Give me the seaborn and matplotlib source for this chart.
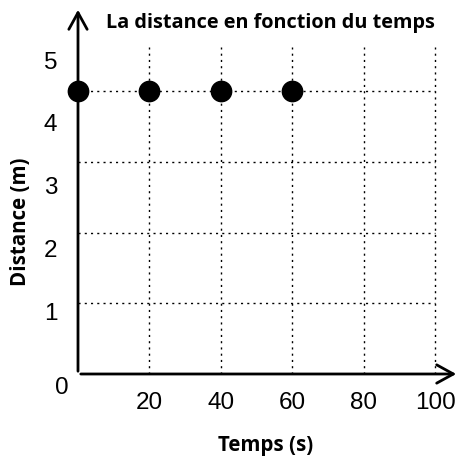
import numpy as np
import pandas as pd
import seaborn as sns
import matplotlib.pyplot as plt

# --- data ---
temps = [0, 20, 40, 60]
distance = [4.5, 4.5, 4.5, 4.5]
x_ticks = [20, 40, 60, 80, 100]
y_ticks = [1, 2, 3, 4, 5]

TITLE = "La distance en fonction du temps"
XLABEL = "Temps (s)"
YLABEL = "Distance (m)"

sns.set_theme(style="white")
plt.rcParams['font.family'] = ['Liberation Sans', 'DejaVu Sans']
plt.rcParams['text.color'] = 'black'

df = pd.DataFrame({"Temps": temps, "Distance": distance})

fig = plt.figure(figsize=(4.6, 4.59), dpi=100)
W, H = 460, 459
# axes box: origin at (78, 374) px, arrow tips at x=459 / y=7
ax = fig.add_axes([78 / W, (H - 374) / H, (459 - 78) / W, (374 - 7) / H])

xmax = (459 - 78) / 3.575
ymax = (374 - 7) / 62.8
ax.set_xlim(0, xmax)
ax.set_ylim(0, ymax)

# dotted grid (drawn by hand, the original grid is offset from the labels)
grid_top = 5.2
grid_y = max(distance) * np.arange(1, 5) / 4
for gx in x_ticks:
    ax.plot([gx, gx], [0, grid_top], ls=(0, (1.5, 3)), color="black", lw=1, zorder=1)
for gy in grid_y:
    ax.plot([0, x_ticks[-1]], [gy, gy], ls=(0, (1.5, 3)), color="black", lw=1, zorder=1)

sns.scatterplot(data=df, x="Temps", y="Distance", ax=ax, s=210, color="black",
                edgecolor="black", zorder=5, clip_on=False, legend=False)

for s in ax.spines.values():
    s.set_visible(False)

# axes with open arrow heads
arrow = dict(arrowstyle="->,head_length=1.0,head_width=0.55", color="black", lw=2)
ax.annotate("", xy=(1, 0), xytext=(0, 0), xycoords="axes fraction", arrowprops=arrow)
ax.annotate("", xy=(0, 1), xytext=(0, 0), xycoords="axes fraction", arrowprops=arrow)

ax.set_xticks(x_ticks)
ax.set_yticks(y_ticks)
ax.set_xticklabels([str(v) for v in x_ticks])
ax.set_yticklabels([str(v) for v in y_ticks])
ax.tick_params(axis="both", length=0, labelsize=17.5, colors="black")
ax.tick_params(axis="x", pad=13)
ax.tick_params(axis="y", pad=15)
ax.set_xlabel("")
ax.set_ylabel("")

fig.text(62 / W, 1 - 388 / H, "0", fontsize=17.5, ha="center", va="center")

fig.text(270 / W, 1 - 23 / H, TITLE, fontsize=14.3, fontweight="bold",
         family="Open Sans", ha="center", va="center")
fig.text(266 / W, 1 - 446 / H, XLABEL, fontsize=14.8, fontweight="bold",
         family="Open Sans", ha="center", va="center")
fig.text(21 / W, 1 - 222 / H, YLABEL, fontsize=14.8, fontweight="bold",
         family="Open Sans", ha="center", va="center", rotation=90)

fig.savefig("out.png", dpi=100)
